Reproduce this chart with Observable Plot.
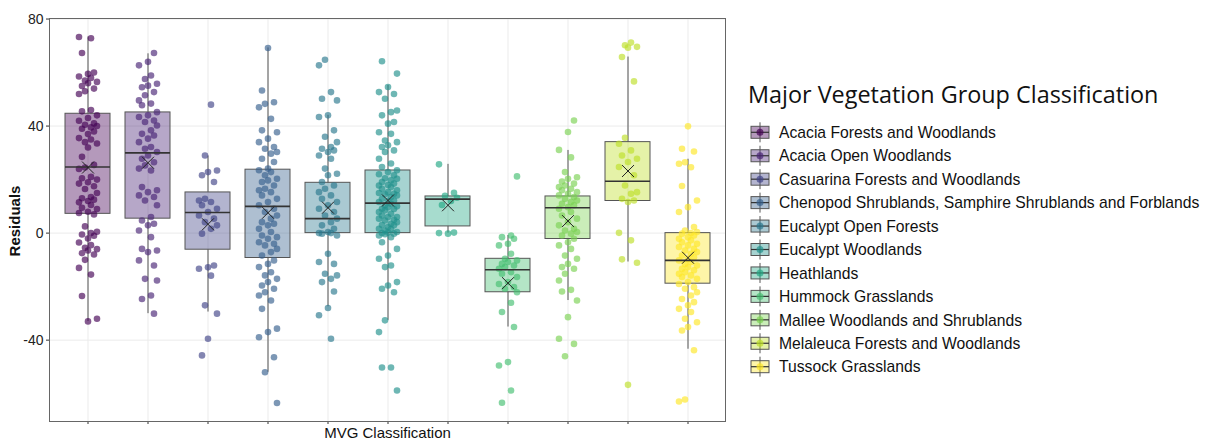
<!DOCTYPE html>
<html>
<head>
<meta charset="utf-8">
<script src="https://cdn.jsdelivr.net/npm/d3@7"></script>
<script src="https://cdn.jsdelivr.net/npm/@observablehq/plot@0.6"></script>
<style>
  html, body { margin: 0; padding: 0; background: #fff; }
  #wrap { position: relative; width: 1213px; height: 441px; overflow: hidden; }
  #chart { position: absolute; left: 0; top: 0; }
  #legend { position: absolute; left: 740px; top: 0; }
</style>
</head>
<body>
<div id="wrap"><div id="chart"></div><div id="legend"></div></div>
<script>
// ---- Data ----
const categories = [
  "Acacia Forests and Woodlands",
  "Acacia Open Woodlands",
  "Casuarina Forests and Woodlands",
  "Chenopod Shrublands, Samphire Shrublands and Forblands",
  "Eucalypt Open Forests",
  "Eucalypt Woodlands",
  "Heathlands",
  "Hummock Grasslands",
  "Mallee Woodlands and Shrublands",
  "Melaleuca Forests and Woodlands",
  "Tussock Grasslands"
];
// box statistics per category
const q1Values     = [7.2, 5.4, -6.2, -9.3, 0, 0, 2.5, -22.1, -2.2, 12, -18.9];
const medianValues = [24.7, 30.0, 7.7, 10.0, 5.4, 11.2, 12.7, -13.7, 9.5, 19.4, -10.2];
const q3Values     = [44.6, 45.1, 15.2, 23.7, 18.8, 23.4, 13.7, -9.6, 13.7, 34.0, 0];
const lowValues    = [-33, -30.1, -29.5, -52, -27.5, -32.6, 0, -35.1, -25.2, -10.8, -43.4];
const highValues   = [73.3, 67, 28.8, 69.2, 44, 55.2, 25.7, -0.9, 30.9, 65.8, 27.6];
const meanValues   = [24.5, 26.3, 3.3, 7.6, 9.5, 12.2, 10.4, -18.7, 4.5, 23.2, -9.2];

// residuals (jittered points) per category
const residAcaciaForests = [73.3,72.8,67.3,60,59.5,58.5,58,57,56.5,56,55,54,53,52,46,45.5,44,43,42,41,40.5,40,39.5,39,38,37,35.5,35,34,33.5,32,28.5,25.5,24.5,24,21,20.5,20,19,18.5,17.5,16.5,15,13.5,13,12.5,12,11.5,10.5,9.5,9,8,7.5,7,2.5,0.5,0,-0.5,-1,-2,-3.5,-4.5,-5.5,-6,-6.5,-7.5,-8,-10,-13,-15.5,-23.5,-32,-33];
const residAcaciaOpen = [67.3,64,62.7,58.9,57.6,55.8,55.1,54.5,52.7,51.5,49.6,48.4,47.8,45.2,44,43.4,42.1,41.5,40.2,38.4,37.1,36.5,35.3,34,32.2,31.5,30.3,29,27.8,26.5,25.3,24.1,23.4,17.2,16,15.3,14.1,13.5,12.2,10.4,6,4.7,3.5,2.9,1,-1.5,-5.9,-6.5,-7.1,-10.2,-12.1,-17.1,-17.7,-23.3,-24.6,-30.1];
const residCasuarina = [48,29,23.4,22.8,21.6,19.1,12.8,12.2,11.6,10.4,9.1,7.9,6.6,5.4,4.1,2.9,1.6,-0.2,-12.1,-12.8,-13.3,-15.9,-27,-30.1,-39.5,-45.7];
const residChenopod = [69.2,53.3,48.9,48.3,47,42.7,38.4,37.7,35.3,34,32.2,31.5,30.3,29.7,27.8,26.6,24.1,23.5,22.8,21.6,20.3,19.7,19.1,17.8,16.6,16,15.3,14.1,12.8,11.6,10.4,9.1,7.9,6.6,5.4,4.1,3.5,2.9,1.6,0.4,-0.9,-1.5,-2.1,-3.4,-4,-4.6,-5.9,-7.1,-8.4,-10.2,-11.5,-12.7,-14.6,-15.8,-17.1,-18.3,-19.6,-20.8,-22.1,-23.3,-25.2,-28.3,-35.7,-37,-38.9,-46.4,-52,-63.5];
const residEucOpen = [64.8,62.7,52.7,50.2,49.6,44,43.4,38.4,36,34,32.2,31.5,30.9,30.3,29,27.8,24.1,22.2,21.6,19.1,17.8,16.6,15.3,14.1,12.8,11.6,10.4,9.1,7.9,6.6,5.4,4.1,2.9,1.6,0.4,0,0,-0.2,-0.9,-7.7,-10.8,-11.5,-15.2,-15.8,-17.1,-18.3,-21.8,-28,-30.7,-39.5];
const residEucWood = [64.2,59.6,54.6,52.7,52,50.2,45.8,45.2,44,41.5,40.9,37.7,37.1,34.6,34,32.8,32.2,30.9,30.3,27.8,26,24.7,23.5,22.8,22,21.6,20.5,20.3,19.7,19.1,18.5,18,17.8,17.2,16.6,16,15.3,15,14.7,14.5,14.1,13.5,12.8,12.2,12,11.6,11,10.4,10,9.7,9.1,9,8.5,7.9,7.2,6.6,6,6,5.4,5,4.7,4.1,3.5,3,2.9,2.3,1.6,1.5,1,0.4,0.2,0,-0.2,-0.4,-0.9,-1.5,-3.4,-5.9,-8.4,-9.6,-12.1,-12.7,-18.3,-19.6,-20.8,-22.1,-32.6,-37,-50.2,-50.2,-58.8];
const residHeath = [25.7,15.1,13.9,13.2,12,10.5,0.2,-0.2,0];
const residHummock = [21.2,-0.9,-1.5,-2.1,-4,-4.6,-7.7,-9.6,-10.2,-10.8,-11.5,-12.1,-12.7,-13.3,-14.6,-15.2,-16.4,-18.3,-19,-20.2,-20.8,-22.1,-26,-29.5,-35.1,-48.2,-49.5,-58.8,-63.4];
const residMallee = [42.1,37.8,31.1,28.3,22.8,20.9,20.3,19.3,18.5,17.8,17.2,16.6,16,15.3,14.7,14.1,13.5,12.8,12.2,11.6,11,10.4,9.7,9.1,7.9,6.6,5.4,4.1,2.9,1.6,1,0.4,-0.2,-0.9,-2.1,-3.4,-4.6,-5.9,-8.4,-9.6,-11.5,-12.7,-13.3,-15.2,-17.7,-21.2,-21.8,-25.2,-31.4,-39.5,-41.4,-46];
const residMelaleuca = [71.2,70.2,69.6,69.3,65.8,56.7,35.6,33.4,30.9,29,27.8,26.6,24.7,21.6,17.8,15.3,14.7,12.8,12.2,11.6,0.1,-2.7,-9.8,-11.1,-56.7];
const residTussock = [39.9,31.5,30.5,26.5,25.9,24.6,17.6,12.2,9.7,7.9,2.3,1,0.4,0,-0.2,-0.9,-1.5,-2.1,-2.7,-3.4,-4,-4.6,-5.2,-5.9,-6.5,-7.1,-7.7,-8.4,-9,-9.6,-10.2,-10.8,-11.5,-12.1,-12.7,-13.3,-13.9,-14.6,-15.2,-15.8,-16.4,-17.1,-18.3,-19,-20.2,-20.8,-22.1,-23.3,-24.6,-25.8,-27,-28.3,-29.5,-32,-33.3,-35.1,-36.4,-43.8,-62.2,-62.9];

const yTickValues = [-40, 0, 40, 80];

// ---- Build tables ----
const residualSets = [residAcaciaForests, residAcaciaOpen, residCasuarina, residChenopod, residEucOpen,
  residEucWood, residHeath, residHummock, residMallee, residMelaleuca, residTussock];
const stats = categories.map((c, i) => ({
  cat: c, q1: q1Values[i], median: medianValues[i], q3: q3Values[i],
  lo: lowValues[i], hi: highValues[i], mean: meanValues[i]
}));
const JITTER_SLOTS = 7;
const points = [];
residualSets.forEach((arr, ci) => arr.forEach((v, j) => {
  // deterministic jitter slot (golden-ratio sequence), drawing only
  const slot = Math.floor((((j + ci * 3) * 0.6180339887) % 1) * JITTER_SLOTS);
  points.push({cat: categories[ci], value: v, slot});
}));

const palette = d3.quantize(d3.interpolateViridis, categories.length);
const jitterPx = [-9, -6, -3, 0, 3, 6, 9];

const dotMarks = jitterPx.map((dx, k) => Plot.dot(points, {
  filter: d => d.slot === k,
  x: "cat", y: "value", dx, r: 3.3, fill: "cat", fillOpacity: 0.65, stroke: "none"
}));

const chart = Plot.plot({
  width: 740, height: 441,
  marginLeft: 49, marginRight: 15, marginTop: 18, marginBottom: 20,
  style: {fontFamily: "'Liberation Sans', Arial, sans-serif", fontSize: "14px", color: "#222", background: "white"},
  x: {type: "band", domain: categories, paddingInner: 0.25, paddingOuter: 0.225, align: 0.5, axis: null},
  y: {domain: [-70.4, 80.2], axis: null},
  color: {domain: categories, range: palette},
  marks: [
    Plot.gridY(yTickValues, {stroke: "#ebebeb", strokeOpacity: 1}),
    Plot.gridX(categories, {stroke: "#ebebeb", strokeOpacity: 1}),
    Plot.axisY(yTickValues, {tickSize: 3, tickPadding: 3, tickFormat: d => String(d), label: null, fontSize: 14, stroke: "#333"}),
    Plot.axisX(categories, {tickSize: 3, tickFormat: () => "", label: null, stroke: "#333"}),
    Plot.ruleX(stats, {x: "cat", y1: "lo", y2: "q1", stroke: "#555", strokeWidth: 1}),
    Plot.ruleX(stats, {x: "cat", y1: "q3", y2: "hi", stroke: "#555", strokeWidth: 1}),
    Plot.barY(stats, {x: "cat", y1: "q1", y2: "q3", fill: "cat", fillOpacity: 0.4, stroke: "#555", strokeWidth: 1}),
    ...dotMarks,
    Plot.tickY(stats, {x: "cat", y: "median", stroke: "#333", strokeWidth: 1.6}),
    Plot.dot(stats, {x: "cat", y: "mean", symbol: "times", r: 5.5, stroke: "#222", strokeWidth: 1}),
    Plot.frame({stroke: "#666", strokeWidth: 1}),
    Plot.text(["Residuals"], {frameAnchor: "left", dx: -34, dy: 1, rotate: -90, textAnchor: "middle", fontSize: 15, fontWeight: "bold", fill: "#111"}),
    Plot.text(["MVG Classification"], {frameAnchor: "bottom", dy: 12, lineAnchor: "middle", fontSize: 15, fill: "#111"})
  ]
});
document.getElementById("chart").appendChild(chart);

// ---- Legend ----
const legendTitle = "Major Vegetation Group Classification";
const lg = d3.create("svg").attr("width", 473).attr("height", 441)
  .style("font-family", "'Liberation Sans', Arial, sans-serif");
lg.append("text").attr("x", 8).attr("y", 103)
  .style("font-family", "'Open Sans', 'Noto Sans', sans-serif").style("font-size", "23.4px")
  .attr("fill", "#111").text(legendTitle);
categories.forEach((c, i) => {
  const cy = 132.3 + i * 23.44;
  const g = lg.append("g");
  g.append("line").attr("x1", 20).attr("x2", 20).attr("y1", cy - 10).attr("y2", cy + 10).attr("stroke", "#555");
  g.append("rect").attr("x", 11).attr("y", cy - 6).attr("width", 18).attr("height", 12)
    .attr("fill", palette[i]).attr("fill-opacity", 0.4).attr("stroke", "#555");
  g.append("line").attr("x1", 11).attr("x2", 29).attr("y1", cy).attr("y2", cy).attr("stroke", "#333").attr("stroke-width", 1.2);
  g.append("circle").attr("cx", 20).attr("cy", cy).attr("r", 3.5).attr("fill", palette[i]).attr("fill-opacity", 0.7);
  g.append("text").attr("x", 39).attr("y", cy + 5.7).style("font-size", "15.7px").attr("fill", "#111").text(c);
});
document.getElementById("legend").appendChild(lg.node());
</script>
</body>
</html>
